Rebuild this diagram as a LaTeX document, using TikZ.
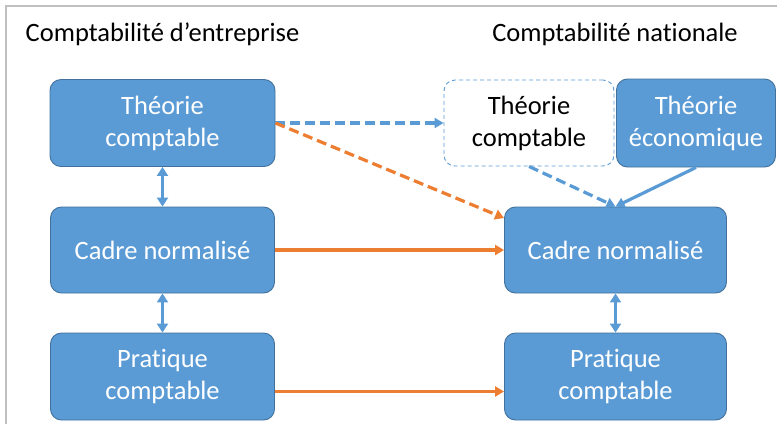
\documentclass[tikz,border=0pt]{standalone}
\usepackage{fontspec}
\setmainfont{Carlito}[Ligatures=NoCommon]
\usetikzlibrary{arrows.meta}

\definecolor{boxblue}{RGB}{91,155,213}
\definecolor{boxline}{RGB}{65,113,156}
\definecolor{arrblue}{RGB}{91,155,213}
\definecolor{arrorange}{RGB}{237,125,49}
\definecolor{framegray}{RGB}{191,191,191}

\tikzset{
  box/.style={draw=boxline, fill=boxblue, line width=0.9pt, rounded corners=11pt,
    text=white, align=center, inner sep=0pt, font=\fontsize{26.5}{32}\selectfont},
  ghostbox/.style={box, draw=arrblue, fill=white, text=black, dashed,
    dash pattern=on 4pt off 3pt},
  title/.style={font=\fontsize{26.5}{32}\selectfont, inner sep=0pt},
  tip/.style={-{Triangle[length=9pt,width=10pt]}},
  bluearr/.style={tip, draw=arrblue, line width=3.2pt},
  orangearr/.style={tip, draw=arrorange, line width=3.2pt},
  twoway/.style={{Triangle[length=9pt,width=11pt]}-{Triangle[length=9pt,width=11pt]}, draw=arrblue, line width=3pt},
  longdash/.style={dash pattern=on 10pt off 5pt},
}

\begin{document}
\begin{tikzpicture}[x=1pt,y=1pt,yscale=-1,xscale=1]
\useasboundingbox (0,0) rectangle (777,424);

% frame
\draw [framegray, line width=1.2pt] (6,424) -- (6,6) -- (777,6) ;

% Titles
\node [title] (titleL) at (162.5,34) {Comptabilité d’entreprise};
\node [title] (titleR) at (615,34) {Comptabilité nationale};

% Boxes, left column
\node [box, minimum width=225pt, minimum height=87pt] (lt) at (162.5,123) {Théorie\\comptable};
\node [box, minimum width=224pt, minimum height=86pt] (lc) at (162.5,250) {Cadre normalisé};
\node [box, minimum width=224pt, minimum height=87pt] (lp) at (162.5,376.5) {Pratique\\comptable};

% Boxes, right column
\node [ghostbox, minimum width=170pt, minimum height=86pt] (dt) at (529,123) {Théorie\\comptable};
\node [box, minimum width=159pt, minimum height=88pt] (te) at (696,123) {Théorie\\économique};
\node [box, minimum width=222pt, minimum height=86pt] (rc) at (615.5,250) {Cadre normalisé};
\node [box, minimum width=222pt, minimum height=87pt] (rp) at (615.5,376.5) {Pratique\\comptable};

% Arrows
\draw [bluearr, longdash] (lt.east) -- (lt.east -| dt.west) ;
\draw [orangearr, longdash] (lt.east) -- (rc.164) ;
\draw [bluearr, longdash] (dt.south) -- (rc.north) ;
\draw [bluearr] (te.south) -- (rc.north) ;
\draw [orangearr] (lc.east) -- (rc.west) ;
\draw [orangearr] ([yshift=15pt]lp.east) -- ([yshift=15pt]rp.west) ;
\draw [twoway] (lt.south) -- (lc.north) ;
\draw [twoway] (lc.south) -- (lp.north) ;
\draw [twoway] (rc.south) -- (rp.north) ;

\end{tikzpicture}
\end{document}
